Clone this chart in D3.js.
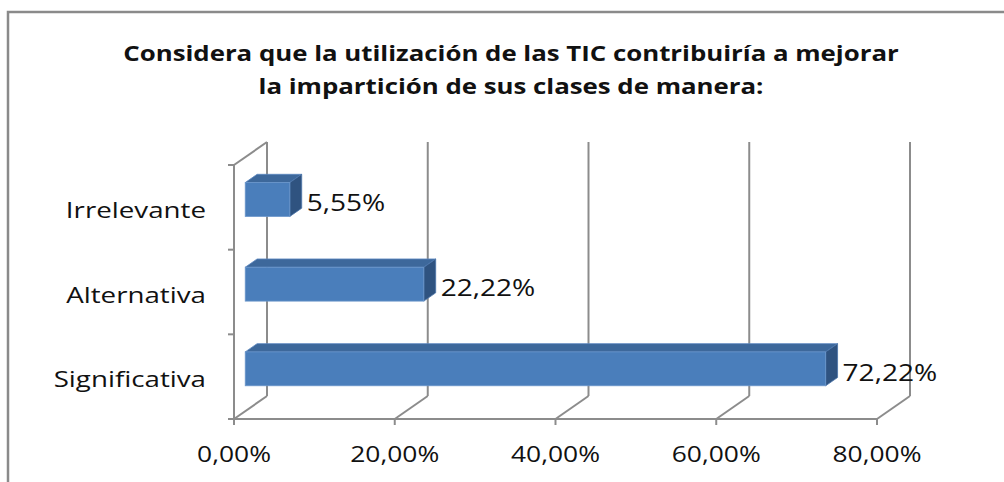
<!DOCTYPE html>
<html>
<head>
<meta charset="utf-8">
<script src="https://cdn.jsdelivr.net/npm/d3@7"></script>
<style>
  body { margin: 0; background: #fff; }
  text { font-family: "Open Sans", Lato, sans-serif; fill: #111; }
</style>
</head>
<body>
<div id="chart"></div>
<script>
// data
var categories = ["Irrelevante", "Alternativa", "Significativa"];
var values = [0.0555, 0.2222, 0.7222];
var labels = ["5,55%", "22,22%", "72,22%"];
var ticks = [0, 0.2, 0.4, 0.6, 0.8];
var tickLabels = ["0,00%", "20,00%", "40,00%", "60,00%", "80,00%"];
var titleLines = ["Considera que la utilización de las TIC contribuiría a mejorar",
                  "la impartición de sus clases de manera:"];

var width = 1004, height = 482;
var DX = 33, DY = -23;     // depth offset of the back wall
var z0 = 0.34, z1 = 0.70;  // bar depth range

var svg = d3.select("#chart").append("svg")
  .attr("width", width).attr("height", height);

// the original text is a bit stretched horizontally
function place(sel, px, py, sx) {
  return sel.attr("transform", "translate(" + px + "," + py + ") scale(" + sx + ",1)");
}

// outer frame
svg.append("rect")
  .attr("x", 8).attr("y", 12).attr("width", 1010).attr("height", 500)
  .attr("fill", "none").attr("stroke", "#8a8a8a").attr("stroke-width", 2.5);

var x = d3.scaleLinear().domain([0, 0.8]).range([234, 877]);
var y = d3.scaleBand().domain(categories).range([165, 419])
  .paddingInner(0.6).paddingOuter(0.3);
var yTicks = d3.scaleLinear().domain([0, 3]).range([165, 419]);

var grid = "#8c8c8c";
var yTop = 165, yBot = 419;

// back wall gridlines + floor diagonals
ticks.forEach(function(t) {
  svg.append("line")
    .attr("x1", x(t) + DX).attr("x2", x(t) + DX)
    .attr("y1", yTop + DY).attr("y2", yBot + DY)
    .attr("stroke", grid).attr("stroke-width", 2);
  svg.append("line")
    .attr("x1", x(t)).attr("y1", yBot)
    .attr("x2", x(t) + DX).attr("y2", yBot + DY)
    .attr("stroke", grid).attr("stroke-width", 2);
});
// side wall top edge
svg.append("line")
  .attr("x1", x(0)).attr("y1", yTop)
  .attr("x2", x(0) + DX).attr("y2", yTop + DY)
  .attr("stroke", grid).attr("stroke-width", 2);

// front axes
svg.append("line")
  .attr("x1", x(0)).attr("x2", x(0)).attr("y1", yTop - 1).attr("y2", yBot + 6)
  .attr("stroke", grid).attr("stroke-width", 2);
svg.append("line")
  .attr("x1", x(0) - 6).attr("x2", x(0.8)).attr("y1", yBot).attr("y2", yBot)
  .attr("stroke", grid).attr("stroke-width", 2);
d3.range(0, 4).forEach(function(i) {
  svg.append("line")
    .attr("x1", x(0) - 6).attr("x2", x(0)).attr("y1", yTicks(i)).attr("y2", yTicks(i))
    .attr("stroke", grid).attr("stroke-width", 2);
});
ticks.forEach(function(t) {
  svg.append("line")
    .attr("x1", x(t)).attr("x2", x(t)).attr("y1", yBot).attr("y2", yBot + 6)
    .attr("stroke", grid).attr("stroke-width", 2);
});

// bars as 3d boxes
function P(v, yy, z) { return [x(v) + z * DX, yy + z * DY]; }
var bars = svg.append("g");
categories.forEach(function(c, i) {
  var v = values[i];
  var yt = y(c), yb = y(c) + y.bandwidth();
  var g = bars.append("g");
  // top face
  g.append("path")
    .attr("d", d3.line()([P(0, yt, z0), P(v, yt, z0), P(v, yt, z1), P(0, yt, z1)]) + "Z")
    .attr("fill", "#3d689b").attr("stroke", "#5a87bf").attr("stroke-width", 0.8);
  // side face
  g.append("path")
    .attr("d", d3.line()([P(v, yt, z0), P(v, yt, z1), P(v, yb, z1), P(v, yb, z0)]) + "Z")
    .attr("fill", "#2f5380").attr("stroke", "#4a74a8").attr("stroke-width", 0.8);
  // front face
  var a = P(0, yt, z0), b = P(v, yb, z0);
  g.append("rect")
    .attr("x", a[0]).attr("y", a[1]).attr("width", b[0] - a[0]).attr("height", b[1] - a[1])
    .attr("fill", "#4a7ebb").attr("stroke", "#6b96cb").attr("stroke-width", 0.8);
  // data label
  var lp = P(v, (yt + yb) / 2, z1);
  place(svg.append("text"), lp[0] + 5, (yt + yb) / 2 - 4, 1.22)
    .attr("dy", "0.35em")
    .style("font-size", "23px")
    .text(labels[i]);
});

// category labels
categories.forEach(function(c) {
  place(svg.append("text"), 206, y(c) + y.bandwidth() / 2 + 3, 1.26)
    .attr("dy", "0.35em").attr("text-anchor", "end")
    .style("font-size", "22px")
    .text(c);
});

// value tick labels
ticks.forEach(function(t, i) {
  place(svg.append("text"), x(t), 462, 1.2)
    .attr("text-anchor", "middle")
    .style("font-size", "22px")
    .text(tickLabels[i]);
});

// title
titleLines.forEach(function(s, i) {
  place(svg.append("text"), 511, 61 + i * 33, 1.23)
    .attr("text-anchor", "middle")
    .style("font-size", "21px").style("font-weight", "bold")
    .text(s);
});
</script>
</body>
</html>
